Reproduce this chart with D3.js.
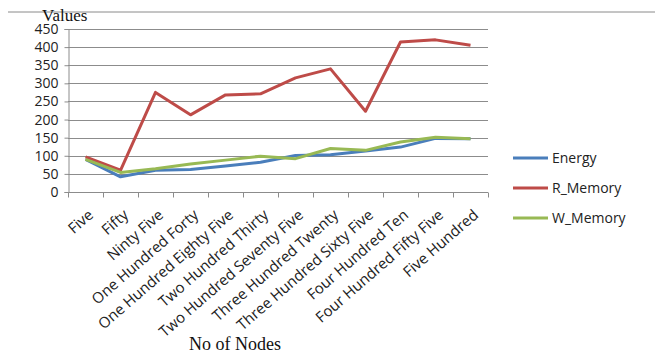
<!DOCTYPE html>
<html>
<head>
<meta charset="utf-8">
<script src="https://cdn.jsdelivr.net/npm/d3@7/dist/d3.min.js"></script>
<style>
  html, body { margin: 0; padding: 0; background: #fff; }
  svg { display: block; }
</style>
</head>
<body>
<svg id="chart" width="661" height="353"></svg>
<script>
// Node counts along the x axis
const categories = ["Five", "Fifty", "Ninty Five", "One Hundred Forty", "One Hundred Eighty Five",
  "Two Hundred Thirty", "Two Hundred Seventy Five", "Three Hundred Twenty",
  "Three Hundred Sixty Five", "Four Hundred Ten", "Four Hundred Fifty Five", "Five Hundred"];

const energy   = [90, 42, 60, 62, 72, 82, 101, 103, 113, 124, 148, 147];
const rMemory  = [97, 60, 275, 213, 268, 271, 315, 340, 223, 414, 420, 405];
const wMemory  = [90, 54, 64, 77, 88, 99, 92, 120, 115, 138, 151, 147];

const yTicks = [0, 50, 100, 150, 200, 250, 300, 350, 400, 450];

const seriesNames = ["Energy", "R_Memory", "W_Memory"];
const seriesColors = ["#4a7ebb", "#be4b48", "#98b954"];
const seriesValues = [energy, rMemory, wMemory];

const svg = d3.select("#chart");
const plot = { left: 68, right: 488, top: 29, bottom: 192 };

const x = d3.scaleBand().domain(categories).range([plot.left, plot.right]);
const y = d3.scaleLinear().domain([0, 450]).range([plot.bottom, plot.top]);

// frame line across the top
svg.append("line")
  .attr("x1", 8).attr("x2", 655).attr("y1", 12).attr("y2", 12)
  .attr("stroke", "#8a8a8a").attr("stroke-width", 1);

// horizontal gridlines
svg.append("g").selectAll("line").data(yTicks.filter(d => d > 0)).join("line")
  .attr("x1", plot.left).attr("x2", plot.right)
  .attr("y1", d => Math.round(y(d)) + 0.5).attr("y2", d => Math.round(y(d)) + 0.5)
  .attr("stroke", "#8c8c8c").attr("stroke-width", 1);

// y axis
const yAxis = svg.append("g")
  .attr("transform", `translate(${plot.left + 0.5},0)`)
  .call(d3.axisLeft(y).tickValues(yTicks).tickSize(4).tickPadding(6));
yAxis.select(".domain").attr("stroke", "#8c8c8c");
yAxis.selectAll(".tick line").attr("stroke", "#8c8c8c");
yAxis.selectAll("text")
  .attr("font-family", "'Open Sans', 'Liberation Sans', sans-serif")
  .attr("font-size", 14).attr("fill", "#222");

// x axis with ticks on band boundaries
const xAxisG = svg.append("g").attr("transform", `translate(0,${Math.round(plot.bottom) + 0.5})`);
xAxisG.append("line").attr("x1", plot.left).attr("x2", plot.right)
  .attr("stroke", "#8c8c8c");
const bounds = categories.map(c => x(c)).concat([plot.right]);
xAxisG.selectAll("line.tk").data(bounds).join("line").attr("class", "tk")
  .attr("x1", d => Math.round(d) + 0.5).attr("x2", d => Math.round(d) + 0.5)
  .attr("y1", 0).attr("y2", 5).attr("stroke", "#8c8c8c");
xAxisG.selectAll("text").data(categories).join("text")
  .attr("transform", d => `translate(${x(d) + x.bandwidth() / 2 + 2},${16}) rotate(-41)`)
  .attr("text-anchor", "end")
  .attr("dy", "0.7em")
  .attr("font-family", "'Open Sans', 'Liberation Sans', sans-serif")
  .attr("font-size", 15).attr("fill", "#222")
  .text(d => d);

// series lines
const line = d3.line()
  .x((d, i) => x(categories[i]) + x.bandwidth() / 2)
  .y(d => y(d));

seriesValues.forEach((vals, k) => {
  svg.append("path").datum(vals)
    .attr("d", line)
    .attr("fill", "none")
    .attr("stroke", seriesColors[k])
    .attr("stroke-width", 3)
    .attr("stroke-linejoin", "round");
});

// axis titles
svg.append("text").attr("x", 42).attr("y", 21)
  .attr("font-family", "'Liberation Serif', 'Times New Roman', serif")
  .attr("font-size", 17).attr("fill", "#111").text("Values");
svg.append("text").attr("x", 235).attr("y", 350).attr("text-anchor", "middle")
  .attr("font-family", "'Liberation Serif', 'Times New Roman', serif")
  .attr("font-size", 18).attr("fill", "#111").text("No of Nodes");

// legend
const legend = svg.append("g");
seriesNames.forEach((name, k) => {
  const ly = 158 + k * 30;
  legend.append("line").attr("x1", 513).attr("x2", 548).attr("y1", ly).attr("y2", ly)
    .attr("stroke", seriesColors[k]).attr("stroke-width", 3);
  legend.append("text").attr("x", 552).attr("y", ly).attr("dy", "0.35em")
    .attr("font-family", "'Open Sans', 'Liberation Sans', sans-serif")
    .attr("font-size", 14).attr("fill", "#222").text(name);
});
</script>
</body>
</html>
